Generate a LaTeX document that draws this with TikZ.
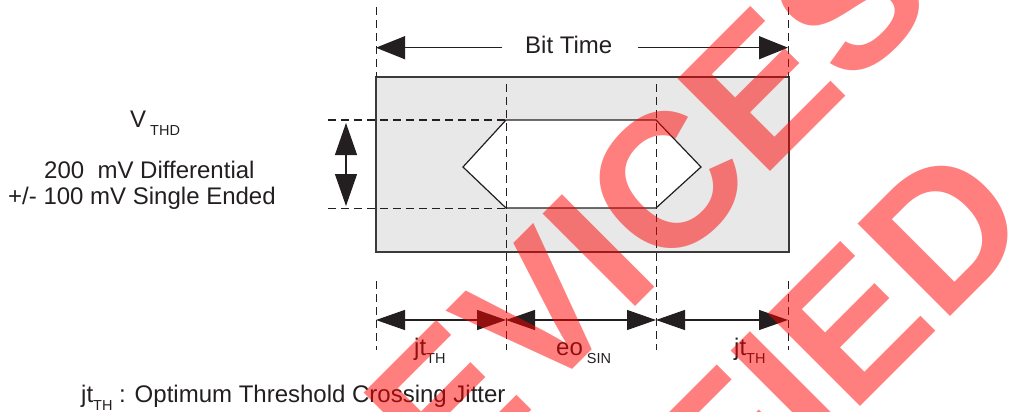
\documentclass[tikz,border=0pt]{standalone}
\usepackage{fontspec}
\setmainfont{Liberation Sans}
\usetikzlibrary{arrows.meta}
\definecolor{ink}{HTML}{231F20}
\definecolor{boxfill}{HTML}{E7E8E7}
\definecolor{boxline}{HTML}{3A3A3A}
\newcommand{\lsub}[1]{\raisebox{-8.5pt}{\fontsize{14.5}{16}\selectfont #1}}
\tikzset{
  ln/.style={line width=1.2pt, draw=ink},
  dsh/.style={line width=1pt, draw=ink, dash pattern=on 8pt off 5pt},
  lbl/.style={inner sep=0pt, anchor=base west, font=\fontsize{24}{28}\selectfont, text=ink},
  tipA/.style={-{Triangle[length=29pt,width=23pt]}, line width=1.2pt, draw=ink, fill=ink},
  tipB/.style={{Triangle[length=29pt,width=20pt]}-{Triangle[length=29pt,width=20pt]}, line width=1.2pt, draw=ink, fill=ink},
  tipV/.style={{Triangle[length=32pt,width=22pt]}-{Triangle[length=32pt,width=22pt]}, line width=1.2pt, draw=ink, fill=ink},
  box/.style={line width=1.5pt, draw=boxline, fill=boxfill},
  eye/.style={line width=1.2pt, draw=ink, fill=white},
  wm/.style={inner sep=0pt, text=red, text opacity=0.5, font=\fontsize{190}{200}\selectfont\bfseries},
}
\begin{document}
\begin{tikzpicture}[x=1pt,y=-1pt]
\useasboundingbox (0,0) rectangle (1013,412);
% main box and eye
\draw[box] (376,77) rectangle (789,252);
\draw[eye] (463,167) -- (506,120) -- (656,120) -- (701,167) -- (656,208) -- (506,208) -- cycle;
% coordinates
\coordinate (tl) at (376,47.7);
\coordinate (tr) at (788,47.7);
\coordinate (btl) at (502,47.7);
\coordinate (btr) at (638,47.7);
\coordinate (dl0) at (376,7);
\coordinate (dl1) at (376,77);
\coordinate (dr0) at (788,7);
\coordinate (dr1) at (788,77);
\coordinate (da0) at (506,84);
\coordinate (da1) at (506,350);
\coordinate (db0) at (656,84);
\coordinate (db1) at (656,350);
\coordinate (dc0) at (376,281);
\coordinate (dc1) at (376,350);
\coordinate (dd0) at (788,281);
\coordinate (dd1) at (788,350);
\coordinate (h10) at (328,120);
\coordinate (h11) at (506,120);
\coordinate (h20) at (328,208);
\coordinate (h21) at (506,208);
\coordinate (va1) at (346,123);
\coordinate (va2) at (346,206);
\coordinate (b0) at (376,320);
\coordinate (b1) at (506,320);
\coordinate (b2) at (656,320);
\coordinate (b3) at (788,320);
% dashed guides
\draw[dsh] (dl0) -- (dl1);
\draw[dsh] (dr0) -- (dr1);
\draw[dsh] (da0) -- (da1);
\draw[dsh] (db0) -- (db1);
\draw[dsh] (dc0) -- (dc1);
\draw[dsh] (dd0) -- (dd1);
\draw[dsh] (h10) -- (h11);
\draw[dsh] (h20) -- (h21);
% arrows
\draw[tipA] (btl) -- (tl);
\draw[tipA] (btr) -- (tr);
\draw[tipV] (va1) -- (va2);
\draw[tipB] (b0) -- (b1);
\draw[tipB] (b1) -- (b2);
\draw[tipB] (b2) -- (b3);
% labels
\node[lbl] (bit) at (525,53.3) {Bit Time};
\node[lbl] (vthd) at (130,127.5) {V\kern4pt\lsub{THD}};
\node[lbl] (diff) at (44,178) {200~~mV Differential};
\node[lbl] (single) at (8,204) {+/- 100 mV Single Ended};
\node[lbl] (jt1) at (414,355) {jt\lsub{TH}};
\node[lbl] (eo) at (556,355) {eo\kern4pt\lsub{SIN}};
\node[lbl] (jt2) at (734,355) {jt\lsub{TH}};
\node[lbl] (legend) at (81,402) {jt\lsub{TH} : Optimum Threshold Crossing Jitter};
% watermark
\begin{scope}
\clip (0,0) rectangle (1013,412);
\node[wm, anchor=base west, rotate=45] (wm1) at (350.5,591.5) {DEVICES};
\node[wm, anchor=base east, rotate=45] (wm2) at (1038.5,228.5) {QUALIFIED};
\end{scope}
\end{tikzpicture}
\end{document}
